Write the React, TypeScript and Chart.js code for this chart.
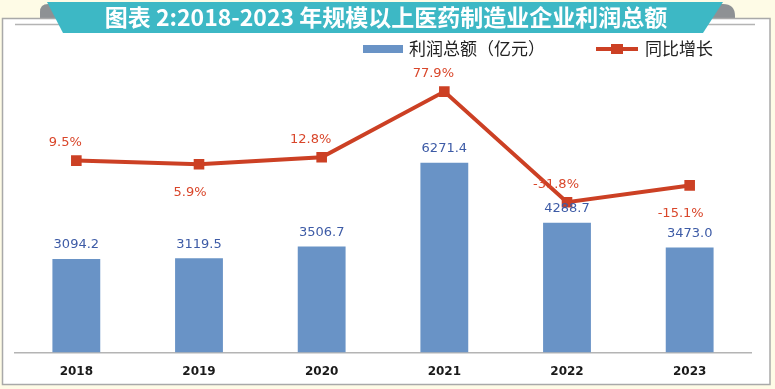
import { useEffect, useRef } from 'react';
import { Chart, registerables } from 'chart.js';

Chart.register(...registerables);

const TITLE = '图表 2:2018-2023 年规模以上医药制造业企业利润总额';
const categories = ['2018', '2019', '2020', '2021', '2022', '2023'];
const profit = [3094.2, 3119.5, 3506.7, 6271.4, 4288.7, 3473.0];
const growth = [9.5, 5.9, 12.8, 77.9, -31.8, -15.1];
const growthLabelSide = ['above', 'below', 'above', 'above', 'above', 'below'];
const profitName = '利润总额（亿元）';
const growthName = '同比增长';

const BAR = '#6993c6';
const LINE = '#cc4024';
const BAR_TEXT = '#3d5ba6';
const LINE_TEXT = '#d9462a';
const TEAL = '#3db8c5';
const TAB = '#8e9194';
const CJK = '"Noto Sans CJK SC", "Noto Sans", sans-serif';

const decorPlugin = {
  id: 'decor',
  beforeDraw(chart: any) {
    const ctx = chart.ctx as CanvasRenderingContext2D;
    ctx.save();
    ctx.fillStyle = '#fefbe6';
    ctx.fillRect(0, 0, chart.width, chart.height);
    // tabs
    ctx.fillStyle = TAB;
    ctx.beginPath();
    ctx.moveTo(40, 18);
    ctx.lineTo(40, 12);
    ctx.quadraticCurveTo(40, 4, 48, 4);
    ctx.lineTo(75, 4);
    ctx.lineTo(75, 18);
    ctx.closePath();
    ctx.fill();
    ctx.beginPath();
    ctx.moveTo(695, 18);
    ctx.lineTo(695, 4);
    ctx.lineTo(723, 4);
    ctx.quadraticCurveTo(735, 4, 735, 16);
    ctx.lineTo(735, 18);
    ctx.closePath();
    ctx.fill();
    // panel
    ctx.fillStyle = '#ffffff';
    ctx.fillRect(2.5, 18.5, 767.5, 366);
    ctx.strokeStyle = '#a9a9a9';
    ctx.lineWidth = 1.5;
    ctx.strokeRect(2.5, 18.5, 767.5, 366);
    // inner line
    ctx.strokeStyle = '#b4b4b4';
    ctx.beginPath();
    ctx.moveTo(15, 24.5);
    ctx.lineTo(755, 24.5);
    ctx.stroke();
    // banner
    ctx.fillStyle = TEAL;
    ctx.beginPath();
    ctx.moveTo(47, 2);
    ctx.lineTo(723, 2);
    ctx.lineTo(703, 33);
    ctx.lineTo(63, 33);
    ctx.closePath();
    ctx.fill();
    ctx.fillStyle = '#ffffff';
    ctx.font = `bold 23px ${CJK}`;
    ctx.textAlign = 'center';
    ctx.textBaseline = 'middle';
    ctx.fillText(TITLE, 386, 17);
    // legend
    ctx.fillStyle = BAR;
    ctx.fillRect(363, 45, 40, 8);
    ctx.fillStyle = '#222222';
    ctx.font = `17px ${CJK}`;
    ctx.textAlign = 'left';
    ctx.fillText(chart.data.datasets[1].label, 409, 49);
    ctx.strokeStyle = LINE;
    ctx.lineWidth = 4;
    ctx.beginPath();
    ctx.moveTo(596, 49);
    ctx.lineTo(638, 49);
    ctx.stroke();
    ctx.fillStyle = LINE;
    ctx.fillRect(611, 44, 12, 10);
    ctx.fillStyle = '#222222';
    ctx.fillText(chart.data.datasets[0].label, 645, 49);
    ctx.restore();
  },
  afterDatasetsDraw(chart: any) {
    const ctx = chart.ctx as CanvasRenderingContext2D;
    ctx.save();
    ctx.font = '13px "DejaVu Sans", sans-serif';
    ctx.textAlign = 'center';
    ctx.textBaseline = 'middle';
    const barMeta = chart.getDatasetMeta(1);
    ctx.fillStyle = BAR_TEXT;
    barMeta.data.forEach((el: any, i: number) => {
      ctx.fillText(profit[i].toFixed(1), el.x, el.y - 14);
    });
    const lineMeta = chart.getDatasetMeta(0);
    ctx.fillStyle = LINE_TEXT;
    lineMeta.data.forEach((el: any, i: number) => {
      const above = growthLabelSide[i] === 'above';
      ctx.fillText(growth[i].toFixed(1) + '%', el.x + (above ? -11 : -9), el.y + (above ? -18 : 28));
    });
    ctx.restore();
  },
};

export default function App() {
  const ref = useRef<HTMLCanvasElement>(null);
  useEffect(() => {
    document.body.style.margin = '0';
    const canvas = ref.current!;
    const chart = new Chart(canvas, {
      type: 'bar',
      data: {
        labels: categories,
        datasets: [
          {
            type: 'line',
            label: growthName,
            data: growth,
            yAxisID: 'y1',
            borderColor: LINE,
            backgroundColor: LINE,
            borderWidth: 4,
            pointStyle: 'rect',
            pointRadius: 7.5,
            pointBackgroundColor: LINE,
            pointBorderWidth: 0,
            tension: 0,
            order: 0,
          } as any,
          {
            type: 'bar',
            label: profitName,
            data: profit,
            yAxisID: 'y',
            backgroundColor: BAR,
            barPercentage: 0.39,
            categoryPercentage: 1,
            order: 1,
          },
        ],
      },
      options: {
        responsive: false,
        animation: false,
        layout: { padding: { left: 15, right: 24, top: 60, bottom: -3 } },
        plugins: { legend: { display: false }, tooltip: { enabled: false } },
        scales: {
          x: {
            grid: { display: false, drawTicks: false },
            border: { display: true, color: '#b4b4b4', width: 1.5 },
            ticks: {
              color: '#1a1a1a',
              font: { family: '"DejaVu Sans", sans-serif', size: 12, weight: 'bold' },
              padding: 12.5,
            },
          },
          y: { display: false, min: 0, max: 9662 },
          y1: { display: false, min: -180.8, max: 109.2 },
        },
      },
      plugins: [decorPlugin],
    });
    return () => chart.destroy();
  }, []);
  return <canvas ref={ref} width={775} height={389} style={{ display: 'block' }} />;
}
